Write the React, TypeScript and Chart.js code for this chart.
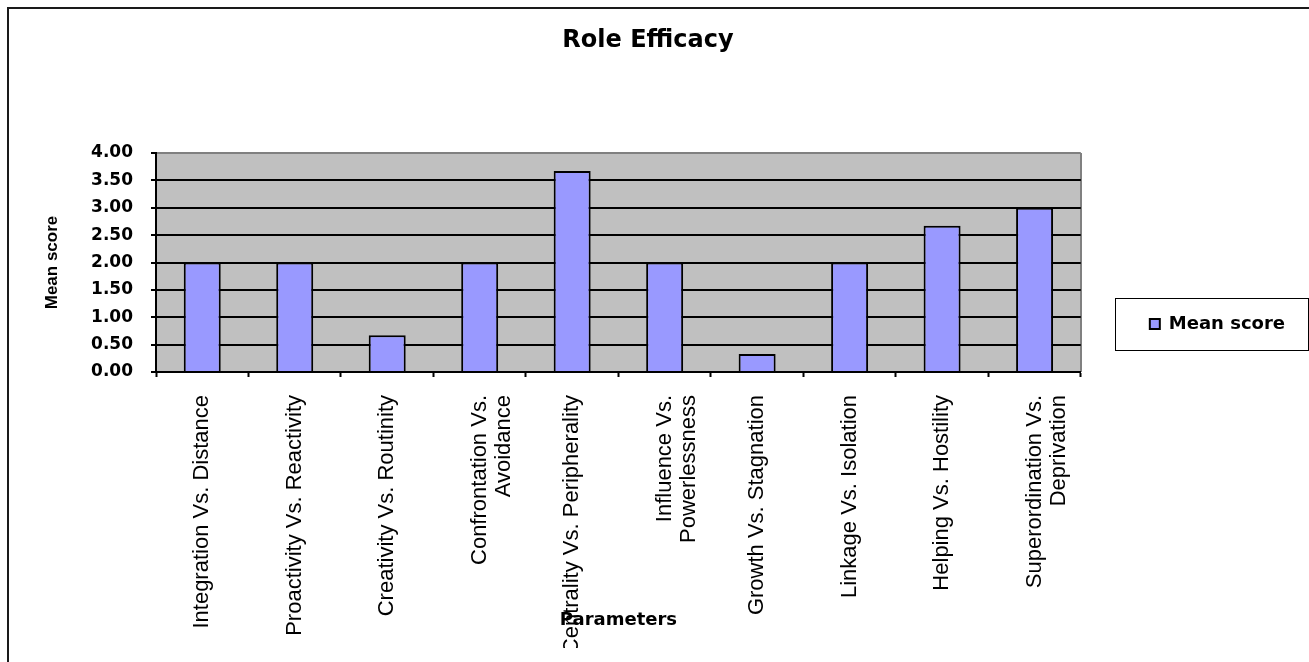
import { useEffect, useRef } from 'react';
import { Chart, registerables } from 'chart.js';

Chart.register(...registerables);

const chartTitle = 'Role Efficacy';
const xAxisTitle = 'Parameters';
const yAxisTitle = 'Mean score';
const seriesLabel = 'Mean score';

const categories: (string | string[])[] = [
  'Integration Vs. Distance',
  'Proactivity Vs. Reactivity',
  'Creativity Vs. Routinity',
  ['Confrontation Vs.', 'Avoidance'],
  'Centrality Vs. Peripherality',
  ['Influence Vs.', 'Powerlessness'],
  'Growth Vs. Stagnation',
  'Linkage Vs. Isolation',
  'Helping Vs. Hostility',
  ['Superordination Vs.', 'Deprivation'],
];

const meanScores = [2.0, 2.0, 0.67, 2.0, 3.67, 2.0, 0.33, 2.0, 2.67, 3.0];

const yMin = 0;
const yMax = 4;
const yStep = 0.5;

const ARIAL = "'Liberation Sans', Arial, sans-serif";
const WIDE = "'DejaVu Sans', sans-serif";

const decor = {
  id: 'decor',
  beforeDraw(chart: any) {
    const { ctx, chartArea: a } = chart;
    ctx.save();
    ctx.fillStyle = '#ffffff';
    ctx.fillRect(0, 0, chart.width, chart.height);
    ctx.strokeStyle = '#1a1a1a';
    ctx.lineWidth = 2;
    ctx.strokeRect(8, 8, chart.width + 40, chart.height + 40);
    ctx.fillStyle = '#c0c0c0';
    ctx.fillRect(a.left, a.top, a.right - a.left, a.bottom - a.top);
    ctx.strokeStyle = '#808080';
    ctx.lineWidth = 2;
    ctx.beginPath();
    ctx.moveTo(Math.round(a.right), a.top);
    ctx.lineTo(Math.round(a.right), a.bottom);
    ctx.stroke();
    ctx.restore();
  },
  afterDraw(chart: any) {
    const hb = chart.legend?.legendHitBoxes?.[0];
    if (!hb) return;
    const { ctx } = chart;
    ctx.save();
    ctx.strokeStyle = '#000';
    ctx.lineWidth = 1;
    const cy = hb.top + hb.height / 2;
    ctx.strokeRect(
      Math.round(hb.left - 35) + 0.5,
      Math.round(cy - 26) + 0.5,
      Math.round(hb.width + 58),
      52
    );
    ctx.restore();
  },
};

export default function App() {
  const ref = useRef<HTMLCanvasElement | null>(null);

  useEffect(() => {
    if (!ref.current) return;
    const chart = new Chart(ref.current, {
      type: 'bar',
      data: {
        labels: categories,
        datasets: [
          {
            label: seriesLabel,
            data: meanScores,
            backgroundColor: '#9999ff',
            borderColor: '#000000',
            borderWidth: 2,
            categoryPercentage: 0.8,
            barPercentage: 0.5,
          },
        ],
      },
      options: {
        responsive: false,
        animation: false,
        devicePixelRatio: 1,
        color: '#000',
        layout: { padding: { left: 1, right: 14, top: 0, bottom: 14 } },
        plugins: {
          tooltip: { enabled: false },
          title: {
            display: true,
            text: chartTitle,
            color: '#000',
            font: { family: WIDE, size: 24, weight: 'bold' },
            padding: { top: 26.1, bottom: 98.1 },
          },
          legend: {
            display: true,
            position: 'right',
            labels: {
              color: '#000',
              boxWidth: 10,
              boxHeight: 10,
              padding: 69,
              font: { family: WIDE, size: 18, weight: 'bold' },
            },
          },
        },
        scales: {
          x: {
            afterFit: (s: any) => {
              s.height = 276;
            },
            border: { display: true, color: '#000', width: 2 },
            grid: {
              display: true,
              drawOnChartArea: false,
              drawTicks: true,
              tickLength: 5,
              tickColor: '#000',
              tickWidth: 2,
              offset: true,
            },
            ticks: {
              autoSkip: false,
              maxRotation: 90,
              minRotation: 90,
              padding: 18,
              color: '#000',
              font: { family: ARIAL, size: 22, lineHeight: 1.1 },
            },
            title: {
              display: true,
              text: xAxisTitle,
              color: '#000',
              font: { family: WIDE, size: 18, weight: 'bold' },
              padding: { top: 0, bottom: 17.2 },
            },
          },
          y: {
            min: yMin,
            max: yMax,
            afterFit: (s: any) => {
              s.width = 155;
            },
            border: { display: true, color: '#000', width: 2 },
            grid: {
              color: (c: any) => (c.tick && c.tick.value === yMax ? '#808080' : '#000'),
              tickColor: '#000',
              tickLength: 5,
              tickWidth: 2,
              lineWidth: 2,
            },
            ticks: {
              stepSize: yStep,
              padding: 18,
              color: '#000',
              font: { family: WIDE, size: 17, weight: 'bold' },
              callback: (v: any) => Number(v).toFixed(2),
            },
            title: {
              display: true,
              text: yAxisTitle,
              color: '#000',
              font: { family: ARIAL, size: 17, weight: 'bold' },
              padding: { top: 40.8, bottom: 0 },
            },
          },
        },
      },
      plugins: [decor],
    });
    return () => chart.destroy();
  }, []);

  return (
    <div style={{ position: 'fixed', left: 0, top: 0, width: 1309, height: 662 }}>
      <canvas ref={ref} width={1309} height={662} style={{ display: 'block', width: 1309, height: 662 }} />
    </div>
  );
}
